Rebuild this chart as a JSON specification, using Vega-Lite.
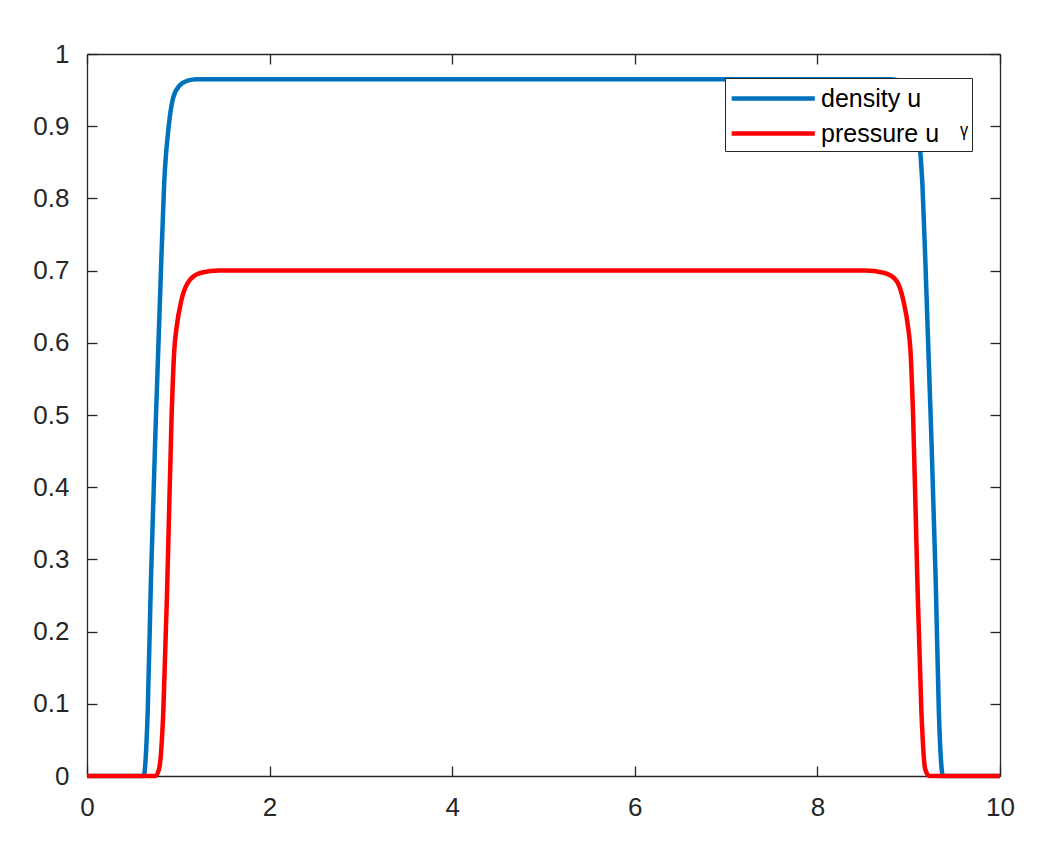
{
  "$schema": "https://vega.github.io/schema/vega-lite/v6.json",
  "width": 913,
  "height": 722,
  "autosize": {"type": "none"},
  "padding": {"left": 87, "top": 54, "right": 37, "bottom": 70},
  "background": "white",
  "config": {
    "view": {"stroke": null},
    "font": "Liberation Sans",
    "axis": {
      "grid": false,
      "domainColor": "#262626",
      "domainWidth": 1.3,
      "tickColor": "#262626",
      "tickWidth": 1.3,
      "tickSize": -10,
      "labelColor": "#262626",
      "labelFont": "Liberation Sans",
      "labelFontSize": 26,
      "labelFlush": false,
      "labelOverlap": false,
      "title": null
    }
  },
  "datasets": {
    "curves": [
      {"x": 0, "value": 0, "series": "density u"},
      {"x": 0.6, "value": 0, "series": "density u"},
      {"x": 0.62, "value": 0, "series": "density u"},
      {"x": 0.665, "value": 0.09, "series": "density u"},
      {"x": 0.7, "value": 0.27, "series": "density u"},
      {"x": 0.756, "value": 0.5, "series": "density u"},
      {"x": 0.81, "value": 0.7, "series": "density u"},
      {"x": 0.845, "value": 0.82, "series": "density u"},
      {"x": 0.895, "value": 0.9, "series": "density u"},
      {"x": 0.945, "value": 0.94, "series": "density u"},
      {"x": 1.02, "value": 0.957, "series": "density u"},
      {"x": 1.1, "value": 0.963, "series": "density u"},
      {"x": 1.2, "value": 0.965, "series": "density u"},
      {"x": 5, "value": 0.965, "series": "density u"},
      {"x": 8.8, "value": 0.965, "series": "density u"},
      {"x": 8.9, "value": 0.963, "series": "density u"},
      {"x": 8.976, "value": 0.957, "series": "density u"},
      {"x": 9.05, "value": 0.94, "series": "density u"},
      {"x": 9.1, "value": 0.9, "series": "density u"},
      {"x": 9.15, "value": 0.82, "series": "density u"},
      {"x": 9.186, "value": 0.7, "series": "density u"},
      {"x": 9.24, "value": 0.5, "series": "density u"},
      {"x": 9.296, "value": 0.27, "series": "density u"},
      {"x": 9.33, "value": 0.09, "series": "density u"},
      {"x": 9.376, "value": 0, "series": "density u"},
      {"x": 10, "value": 0, "series": "density u"},
      {"x": 0, "value": 0, "series": "pressure u"},
      {"x": 0.75, "value": 0, "series": "pressure u"},
      {"x": 0.79, "value": 0.01, "series": "pressure u"},
      {"x": 0.836, "value": 0.09, "series": "pressure u"},
      {"x": 0.88, "value": 0.27, "series": "pressure u"},
      {"x": 0.927, "value": 0.5, "series": "pressure u"},
      {"x": 0.956, "value": 0.59, "series": "pressure u"},
      {"x": 0.98, "value": 0.62, "series": "pressure u"},
      {"x": 1.036, "value": 0.66, "series": "pressure u"},
      {"x": 1.127, "value": 0.687, "series": "pressure u"},
      {"x": 1.25, "value": 0.697, "series": "pressure u"},
      {"x": 1.45, "value": 0.7, "series": "pressure u"},
      {"x": 5, "value": 0.7, "series": "pressure u"},
      {"x": 8.525, "value": 0.7, "series": "pressure u"},
      {"x": 8.725, "value": 0.697, "series": "pressure u"},
      {"x": 8.86, "value": 0.687, "series": "pressure u"},
      {"x": 8.939, "value": 0.66, "series": "pressure u"},
      {"x": 8.995, "value": 0.62, "series": "pressure u"},
      {"x": 9.019, "value": 0.59, "series": "pressure u"},
      {"x": 9.048, "value": 0.5, "series": "pressure u"},
      {"x": 9.095, "value": 0.27, "series": "pressure u"},
      {"x": 9.139, "value": 0.09, "series": "pressure u"},
      {"x": 9.18, "value": 0.01, "series": "pressure u"},
      {"x": 9.225, "value": 0, "series": "pressure u"},
      {"x": 10, "value": 0, "series": "pressure u"}
    ]
  },
  "data": {"name": "curves"},
  "layer": [
    {
      "mark": {"type": "line", "strokeWidth": 4.5, "interpolate": "monotone"},
      "encoding": {
        "x": {
          "field": "x", "type": "quantitative",
          "scale": {"domain": [0, 10], "nice": false},
          "axis": {"orient": "bottom", "values": [0, 2, 4, 6, 8, 10], "format": "d", "labelPadding": 28}
        },
        "y": {
          "field": "value", "type": "quantitative",
          "scale": {"domain": [0, 1], "nice": false},
          "axis": {"orient": "left", "values": [0, 0.1, 0.2, 0.3, 0.4, 0.5, 0.6, 0.7, 0.8, 0.9, 1], "format": "~g", "labelPadding": 28}
        },
        "color": {
          "field": "series", "type": "nominal",
          "scale": {"domain": ["density u", "pressure u"], "range": ["#0072BD", "#FF0000"]},
          "legend": {
            "orient": "none",
            "legendX": 638,
            "legendY": 24,
            "title": null,
            "symbolType": "M-1,0H5",
            "symbolSize": 768,
            "symbolStrokeWidth": 4.5,
            "labelFontSize": 25,
            "labelColor": "black",
            "labelOffset": 59,
            "labelLimit": 400,
            "labelExpr": "datum.label == 'pressure u' ? 'pressure u\u00a0\u00a0\u00a0\u1d5e' : datum.label",
            "padding": 4,
            "rowPadding": 5,
            "strokeColor": "#262626",
            "fillColor": "white"
          }
        }
      }
    },
    {
      "mark": {"type": "line", "opacity": 0},
      "encoding": {
        "x": {
          "field": "x", "type": "quantitative",
          "axis": {"orient": "top", "values": [0, 2, 4, 6, 8, 10], "labels": false}
        },
        "y": {
          "field": "value", "type": "quantitative",
          "axis": {"orient": "right", "values": [0, 0.1, 0.2, 0.3, 0.4, 0.5, 0.6, 0.7, 0.8, 0.9, 1], "labels": false}
        },
        "detail": {"field": "series"}
      }
    }
  ],
  "resolve": {"axis": {"x": "independent", "y": "independent"}}
}
